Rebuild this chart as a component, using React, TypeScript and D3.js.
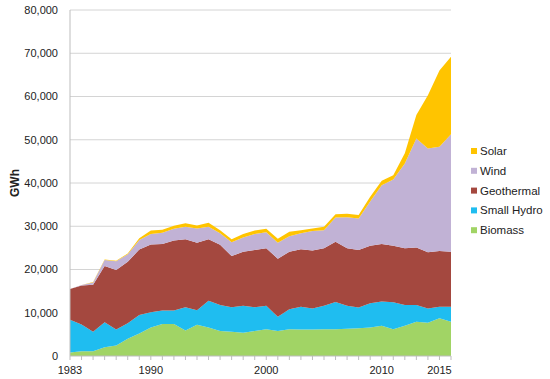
import React from "react";
import * as d3 from "d3";

const years = d3.range(1983, 2017);
const biomass = [0.8,1.1,1.1,2.0,2.4,4.0,5.2,6.6,7.4,7.4,5.9,7.2,6.6,5.8,5.6,5.4,5.8,6.2,5.8,6.2,6.1,6.1,6.2,6.2,6.3,6.4,6.6,7.0,6.2,7.0,7.9,7.7,8.7,7.9];
const smallHydro = [7.6,6.2,4.5,5.8,3.7,3.6,4.3,3.5,3.1,3.1,5.4,3.4,6.2,6.0,5.7,6.2,5.5,5.4,3.3,4.6,5.3,4.9,5.4,6.3,5.3,4.8,5.6,5.6,6.2,4.8,3.9,3.3,2.7,3.5];
const geothermal = [7.1,9.0,10.9,13.0,13.8,14.2,15.1,15.7,15.4,16.2,15.7,15.6,14.2,13.9,11.8,12.5,13.2,13.3,13.4,13.3,13.3,13.4,13.3,13.9,13.3,13.3,13.3,13.3,13.1,13.1,13.3,13.0,12.9,12.7];
const wind = [0,0.1,0.5,1.4,2.0,1.7,2.2,2.4,2.6,2.7,2.9,3.3,2.9,2.7,3.2,3.3,3.7,3.7,3.7,3.6,3.7,4.5,4.2,5.6,7.2,7.3,10.2,13.6,15.3,19.6,25.2,24.0,24.1,27.2];
const solar = [0,0,0.1,0.1,0.1,0.2,0.4,0.8,0.7,0.7,0.8,0.7,0.9,0.7,0.7,0.8,0.8,0.8,0.9,1.0,0.7,0.6,0.8,0.8,0.8,0.8,1.1,1.0,1.0,2.4,5.4,12.3,17.6,17.9];

const seriesNames = ["Biomass", "Small Hydro", "Geothermal", "Wind", "Solar"];
const seriesColors = ["#A1D465", "#1FBDF0", "#A4483F", "#C1B2D5", "#FFC400"];
const yTicks = [0, 10000, 20000, 30000, 40000, 50000, 60000, 70000, 80000];
const xLabels = [1983, 1990, 2000, 2010, 2015];

export default function App() {
  const W = 550, H = 379;
  const left = 70, right = 451, top = 10, bottom = 356;
  const rows = years.map((y, i) => ({
    year: y,
    Biomass: biomass[i] * 1000,
    "Small Hydro": smallHydro[i] * 1000,
    Geothermal: geothermal[i] * 1000,
    Wind: wind[i] * 1000,
    Solar: solar[i] * 1000,
  }));
  const x = d3.scaleLinear().domain([1983, 2016]).range([left, right]);
  const y = d3.scaleLinear().domain([0, 80000]).range([bottom, top]);
  const stacked = d3.stack<any>().keys(seriesNames)(rows);
  const area = d3.area<any>()
    .x((d) => x(d.data.year))
    .y0((d) => y(d[0]))
    .y1((d) => y(d[1]))
    .curve(d3.curveLinear);
  const fmt = d3.format(",");
  const font = "'Liberation Sans', Arial, Helvetica, sans-serif";
  const legendOrder = [4, 3, 2, 1, 0];

  return (
    <svg width={W} height={H} style={{ position: "absolute", left: 0, top: 0, fontFamily: font }}>
      <rect width={W} height={H} fill="#fff" />
      {yTicks.map((t) => (
        <g key={t}>
          {t > 0 && (
            <line x1={left} x2={right} y1={y(t)} y2={y(t)} stroke="#D4D4D4" strokeWidth={1} />
          )}
          <text x={58} y={y(t)} dy="0.35em" textAnchor="end" fontSize={11} fill="#222">
            {fmt(t)}
          </text>
        </g>
      ))}
      {stacked.map((s, i) => (
        <path key={s.key} d={area(s) || ""} fill={seriesColors[i]} />
      ))}
      <line x1={left} x2={left} y1={top} y2={bottom} stroke="#BDBDBD" strokeWidth={1} />
      <line x1={left} x2={right} y1={bottom} y2={bottom} stroke="#BDBDBD" strokeWidth={1} />
      {years.map((yr) => (
        <line key={yr} x1={x(yr)} x2={x(yr)} y1={bottom} y2={bottom + 4} stroke="#BDBDBD" strokeWidth={1} />
      ))}
      {xLabels.map((yr) => (
        <text key={yr} x={x(yr)} y={bottom + 18} textAnchor="middle" fontSize={11} fill="#222">
          {yr}
        </text>
      ))}
      <text
        transform={`translate(19,${(top + bottom) / 2}) rotate(-90)`}
        textAnchor="middle"
        fontSize={12}
        fontWeight="bold"
        fill="#222"
      >
        GWh
      </text>
      {legendOrder.map((si, k) => (
        <g key={si} transform={`translate(471,${151 + k * 19.8})`}>
          <rect x={0} y={-3} width={6} height={6} fill={seriesColors[si]} />
          <text x={9} y={0} dy="0.35em" fontSize={11.5} fill="#222">
            {seriesNames[si]}
          </text>
        </g>
      ))}
    </svg>
  );
}
